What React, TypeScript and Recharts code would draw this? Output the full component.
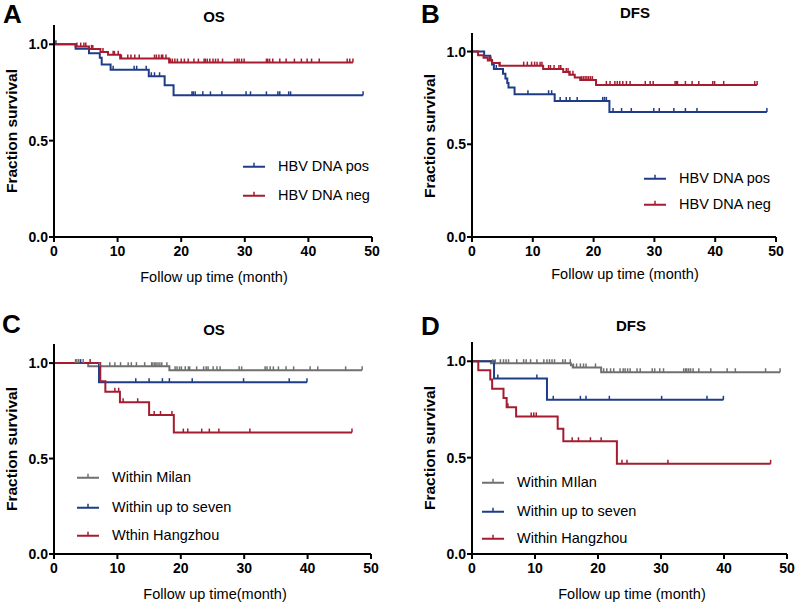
import React from "react";
import { ComposedChart, Line, Scatter, XAxis, YAxis } from "recharts";

const FONT = '"Liberation Sans", Arial, Helvetica, sans-serif';
const BLUE = "#1f3c88";
const RED = "#a51c30";
const GREY = "#707070";

// A: OS by HBV DNA
const aPosTimes = [0, 3.4, 5.5, 7.2, 7.5, 8.9, 14.9, 17.4, 18.8];
const aPosSurv = [1.0, 0.977, 0.953, 0.93, 0.895, 0.868, 0.834, 0.787, 0.735];
const aPosCensor = [0.3, 9.3, 12.6, 13.0, 14.5, 15.3, 15.8, 16.6, 21.7, 21.9, 22.2, 23.4, 24.6, 26.4, 30.2, 30.9, 33.4, 35.2, 35.5, 36.9, 37.2, 48.6];
const aNegTimes = [0, 3.4, 5.5, 7.3, 8.5, 10.4, 18.1];
const aNegSurv = [1.0, 0.988, 0.976, 0.96, 0.945, 0.926, 0.905];
const aNegCensor = [3.6, 4.2, 4.7, 5.0, 5.9, 6.1, 7.7, 9.3, 9.5, 10.1, 10.6, 11.6, 12.1, 12.7, 13.4, 15.8, 16.1, 16.5, 16.9, 17.1, 17.6, 18.3, 18.6, 19.0, 19.4, 20.0, 20.5, 21.1, 22.0, 22.7, 23.6, 23.8, 24.1, 24.5, 25.0, 25.4, 25.8, 26.5, 28.4, 28.8, 29.1, 29.5, 29.9, 33.4, 33.6, 33.9, 34.4, 35.5, 36.5, 37.8, 38.9, 39.8, 40.5, 41.7, 46.1, 46.5, 47.0];

// B: DFS by HBV DNA
const bPosTimes = [0, 2.0, 3.0, 3.3, 3.6, 5.1, 5.5, 5.8, 6.0, 7.0, 13.6, 22.6];
const bPosSurv = [1.0, 0.977, 0.954, 0.93, 0.906, 0.88, 0.855, 0.83, 0.806, 0.77, 0.734, 0.674];
const bPosCensor = [4.0, 9.2, 12.6, 13.1, 14.5, 15.5, 16.1, 17.3, 21.5, 21.8, 22.1, 23.2, 24.6, 26.2, 29.9, 30.8, 33.2, 35.1, 37.0, 48.5];
const bNegTimes = [0, 1.0, 1.9, 2.6, 3.3, 4.5, 11.7, 15.0, 16.0, 16.9, 17.8, 20.4];
const bNegSurv = [1.0, 0.98, 0.966, 0.952, 0.938, 0.924, 0.906, 0.89, 0.875, 0.86, 0.846, 0.82];
const bNegCensor = [2.9, 3.1, 4.6, 8.5, 9.1, 9.8, 10.3, 10.7, 11.2, 11.5, 12.6, 12.9, 13.5, 14.3, 14.6, 15.5, 15.8, 16.1, 16.6, 18.0, 18.3, 18.6, 18.9, 19.2, 19.5, 19.8, 22.1, 22.7, 23.5, 23.9, 24.3, 24.8, 25.4, 26.0, 28.5, 29.3, 29.8, 33.4, 33.6, 33.8, 35.1, 36.2, 37.3, 39.6, 39.9, 41.4, 46.5, 46.9];

// C: OS by criteria
const cMilanTimes = [0, 5.4, 18.2];
const cMilanSurv = [1.0, 0.984, 0.962];
const cMilanCensor = [3.4, 3.6, 3.9, 4.6, 7.2, 8.8, 9.6, 10.5, 11.7, 12.2, 13.0, 14.3, 15.4, 15.6, 15.9, 16.1, 16.4, 16.7, 17.0, 17.8, 19.1, 19.4, 19.8, 20.1, 20.7, 21.2, 21.4, 22.5, 23.6, 24.0, 24.3, 25.1, 25.7, 26.2, 29.2, 29.6, 33.3, 33.6, 34.1, 34.6, 35.4, 36.6, 37.8, 40.4, 41.6, 46.0, 48.6];
const cSevenTimes = [0, 7.1];
const cSevenSurv = [1.0, 0.9];
const cSevenCensor = [4.2, 12.9, 15.0, 17.1, 18.2, 21.8, 29.9, 37.1, 39.9];
const cHzTimes = [0, 7.3, 8.1, 10.4, 15.0, 18.9];
const cHzSurv = [1.0, 0.905, 0.85, 0.795, 0.728, 0.636];
const cHzCensor = [5.7, 9.6, 10.2, 10.9, 13.2, 15.8, 16.8, 18.6, 20.4, 21.1, 23.3, 24.5, 26.0, 30.9, 47.0];

// D: DFS by criteria
const dMilanTimes = [0, 3.0, 15.7, 16.0, 20.5];
const dMilanSurv = [1.0, 0.99, 0.979, 0.968, 0.943];
const dMilanCensor = [3.3, 3.7, 4.5, 5.0, 5.4, 5.8, 7.1, 8.2, 8.6, 9.3, 10.3, 11.4, 11.9, 12.3, 12.7, 13.1, 14.4, 14.8, 15.6, 16.1, 16.6, 17.2, 17.7, 18.1, 19.6, 20.9, 21.4, 22.0, 22.5, 23.5, 24.0, 24.3, 24.7, 25.1, 26.2, 26.7, 28.6, 29.0, 29.8, 30.4, 33.6, 33.9, 34.1, 34.4, 34.7, 35.1, 36.0, 37.9, 40.5, 41.8, 46.6, 48.9];
const dSevenTimes = [0, 3.5, 11.9];
const dSevenSurv = [1.0, 0.91, 0.8];
const dSevenCensor = [4.1, 10.3, 12.9, 17.2, 18.1, 21.8, 30.1, 37.3, 39.9];
const dHzTimes = [0, 1.0, 2.9, 3.2, 5.0, 5.5, 7.0, 13.6, 14.5, 23.0];
const dHzSurv = [1.0, 0.953, 0.905, 0.858, 0.81, 0.762, 0.714, 0.65, 0.585, 0.468];
const dHzCensor = [5.7, 9.4, 9.8, 10.2, 15.9, 16.9, 18.8, 20.5, 23.8, 24.6, 31.1, 47.4];

const xTicks = [0, 10, 20, 30, 40, 50];
const yTicks = [0, 0.5, 1.0];

type Series = { name: string; color: string; times: number[]; surv: number[]; censor: number[] };

function survAt(s: Series, t: number) {
  let v = s.surv[0];
  for (let i = 0; i < s.times.length; i++) if (s.times[i] <= t) v = s.surv[i];
  return v;
}

function stepData(s: Series) {
  const pts = s.times.map((t, i) => ({ t, s: s.surv[i] }));
  const end = Math.max(...s.censor, ...s.times);
  pts.push({ t: end, s: s.surv[s.surv.length - 1] });
  return pts;
}

function censorData(s: Series) {
  return s.censor.map((t) => ({ t, s: survAt(s, t) }));
}

const tickStyle = { fill: "#000", fontSize: 14, fontWeight: "bold", fontFamily: FONT };
const axisStroke = { stroke: "#000", strokeWidth: 2 };

function LegendIcon({ color }: { color: string }) {
  return (
    <svg width={22} height={10} style={{ display: "block" }}>
      <line x1={0} x2={22} y1={6} y2={6} stroke={color} strokeWidth={2} />
      <line x1={11} x2={11} y1={6} y2={2} stroke={color} strokeWidth={1.5} />
    </svg>
  );
}

interface PanelProps {
  ox: number;
  oy: number;
  h: number;
  margin: { top: number; right: number; bottom: number; left: number };
  series: Series[];
  letter: string;
  letterXY: [number, number];
  title: string;
  titleXY: [number, number];
  yLabelXY: [number, number];
  xLabel: string;
  xLabelXY: [number, number];
  legendX: number;
  legendYs: number[];
}

function Panel(p: PanelProps) {
  const abs = (x: number, y: number, extra: React.CSSProperties = {}): React.CSSProperties => ({
    position: "absolute",
    left: x,
    top: y,
    whiteSpace: "nowrap",
    fontFamily: FONT,
    color: "#000",
    lineHeight: 1,
    ...extra,
  });
  return (
    <>
      <div style={{ position: "absolute", left: p.ox, top: p.oy }}>
        <ComposedChart width={400} height={p.h} margin={p.margin}>
          <XAxis
            type="number"
            dataKey="t"
            domain={[0, 50]}
            ticks={xTicks}
            height={30}
            tick={tickStyle}
            tickSize={5}
            tickMargin={4}
            axisLine={axisStroke}
            tickLine={axisStroke}
            allowDataOverflow
          />
          <YAxis
            type="number"
            domain={[0, 1.1]}
            ticks={yTicks}
            width={40}
            tick={tickStyle}
            tickSize={5}
            tickMargin={1}
            tickFormatter={(v: number) => v.toFixed(1)}
            axisLine={axisStroke}
            tickLine={axisStroke}
            allowDataOverflow
          />
          {p.series.map((s) => (
            <Line
              key={s.name + "-line"}
              data={stepData(s)}
              dataKey="s"
              type="stepAfter"
              stroke={s.color}
              strokeWidth={2}
              dot={false}
              activeDot={false}
              isAnimationActive={false}
            />
          ))}
          {p.series.map((s) => (
            <Scatter
              key={s.name + "-cens"}
              data={censorData(s)}
              dataKey="s"
              isAnimationActive={false}
              shape={(props: any) => (
                <line
                  x1={props.cx}
                  x2={props.cx}
                  y1={props.cy}
                  y2={props.cy - 4}
                  stroke={s.color}
                  strokeWidth={1.5}
                />
              )}
            />
          ))}
        </ComposedChart>
      </div>
      <div style={abs(p.letterXY[0], p.letterXY[1], { fontSize: 26, fontWeight: "bold" })}>{p.letter}</div>
      <div
        style={abs(p.titleXY[0], p.titleXY[1], {
          fontSize: 15,
          fontWeight: "bold",
          transform: "translate(-50%, -50%)",
        })}
      >
        {p.title}
      </div>
      <div
        style={abs(p.yLabelXY[0], p.yLabelXY[1], {
          fontSize: 15.5,
          fontWeight: "bold",
          transform: "translate(-50%, -50%) rotate(-90deg)",
        })}
      >
        Fraction survival
      </div>
      <div style={abs(p.xLabelXY[0], p.xLabelXY[1], { fontSize: 14.5, transform: "translate(-50%, -50%)" })}>
        {p.xLabel}
      </div>
      {p.series.map((s, i) => (
        <div
          key={s.name + "-leg"}
          style={abs(p.legendX, p.legendYs[i], {
            display: "flex",
            alignItems: "center",
            fontSize: 14.5,
            transform: "translateY(-50%)",
          })}
        >
          <LegendIcon color={s.color} />
          <span style={{ marginLeft: 13 }}>{s.name}</span>
        </div>
      ))}
    </>
  );
}

export default function App() {
  const seriesA: Series[] = [
    { name: "HBV DNA pos", color: BLUE, times: aPosTimes, surv: aPosSurv, censor: aPosCensor },
    { name: "HBV DNA neg", color: RED, times: aNegTimes, surv: aNegSurv, censor: aNegCensor },
  ];
  const seriesB: Series[] = [
    { name: "HBV DNA pos", color: BLUE, times: bPosTimes, surv: bPosSurv, censor: bPosCensor },
    { name: "HBV DNA neg", color: RED, times: bNegTimes, surv: bNegSurv, censor: bNegCensor },
  ];
  const seriesC: Series[] = [
    { name: "Within Milan", color: GREY, times: cMilanTimes, surv: cMilanSurv, censor: cMilanCensor },
    { name: "Within up to seven", color: BLUE, times: cSevenTimes, surv: cSevenSurv, censor: cSevenCensor },
    { name: "Wthin Hangzhou", color: RED, times: cHzTimes, surv: cHzSurv, censor: cHzCensor },
  ];
  const seriesD: Series[] = [
    { name: "Within MIlan", color: GREY, times: dMilanTimes, surv: dMilanSurv, censor: dMilanCensor },
    { name: "Within up to seven", color: BLUE, times: dSevenTimes, surv: dSevenSurv, censor: dSevenCensor },
    { name: "Within Hangzhou", color: RED, times: dHzTimes, surv: dHzSurv, censor: dHzCensor },
  ];

  return (
    <div style={{ position: "absolute", left: 0, top: 0, width: 800, height: 604, background: "#fff", overflow: "hidden" }}>
      <Panel
        ox={0}
        oy={0}
        h={300}
        margin={{ top: 25, right: 28, bottom: 33, left: 14 }}
        series={seriesA}
        letter="A"
        letterXY={[3, 1]}
        title="OS"
        titleXY={[214, 16]}
        yLabelXY={[12, 131]}
        xLabel="Follow up time (month)"
        xLabelXY={[214, 277]}
        legendX={243}
        legendYs={[166, 195]}
      />
      <Panel
        ox={400}
        oy={0}
        h={300}
        margin={{ top: 33, right: 24, bottom: 33, left: 32 }}
        series={seriesB}
        letter="B"
        letterXY={[421, 1]}
        title="DFS"
        titleXY={[635, 12]}
        yLabelXY={[430, 136]}
        xLabel="Follow up time (month)"
        xLabelXY={[625, 274]}
        legendX={644}
        legendYs={[178, 204]}
      />
      <Panel
        ox={0}
        oy={300}
        h={304}
        margin={{ top: 44, right: 29, bottom: 20, left: 14 }}
        series={seriesC}
        letter="C"
        letterXY={[2, 311]}
        title="OS"
        titleXY={[214, 329]}
        yLabelXY={[12, 449]}
        xLabel="Follow up time(month)"
        xLabelXY={[215, 594]}
        legendX={77}
        legendYs={[477, 507, 535]}
      />
      <Panel
        ox={400}
        oy={300}
        h={304}
        margin={{ top: 42, right: 13, bottom: 20, left: 32 }}
        series={seriesD}
        letter="D"
        letterXY={[421, 313]}
        title="DFS"
        titleXY={[631, 325]}
        yLabelXY={[430, 448]}
        xLabel="Follow up time (month)"
        xLabelXY={[632, 594]}
        legendX={482}
        legendYs={[482, 511, 538]}
      />
    </div>
  );
}
